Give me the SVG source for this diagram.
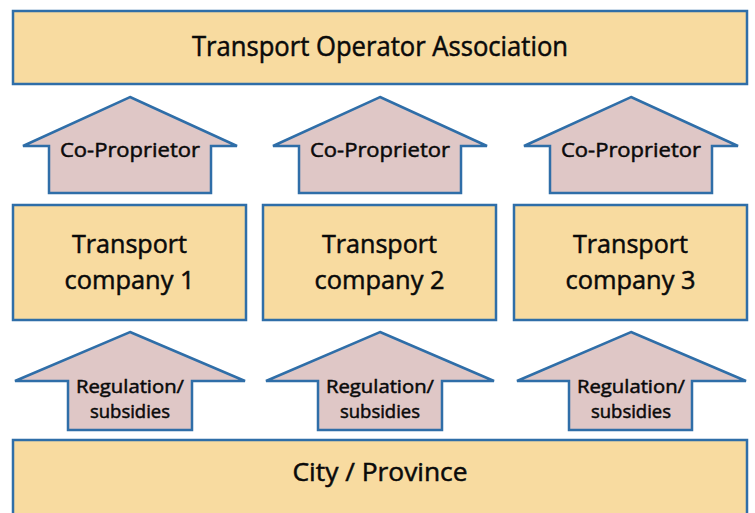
<svg xmlns="http://www.w3.org/2000/svg" width="755" height="513" viewBox="0 0 755 513">
<style>
.box{fill:#F8DBA0;stroke:#2F6EA8;stroke-width:2.5}
.arr{fill:#DFC7C6;stroke:#2F6EA8;stroke-width:2.5;stroke-linejoin:miter}
text{font-family:"Open Sans","Noto Sans","Liberation Sans",sans-serif;fill:#0a0a0a;stroke:#0a0a0a;stroke-width:0.5;text-anchor:middle}
.t1{font-size:27px}
.t2{font-size:25px}
.t3{font-size:20px}
.t4{font-size:18px}
</style>
<rect width="755" height="513" fill="#fff"/>
<g id="association">
<rect class="box" x="13" y="11" width="734" height="73"/>
<text class="t1" x="380" y="56" textLength="376" lengthAdjust="spacingAndGlyphs">Transport Operator Association</text>
</g>
<g id="connectors">
<g id="co1"><path class="arr" d="M130,97 L237,146 L211,146 L211,193 L49,193 L49,146 L23,146 Z"/><text class="t3" x="130" y="157" textLength="140" lengthAdjust="spacingAndGlyphs">Co-Proprietor</text></g>
<g id="co2"><path class="arr" d="M380,97 L487,146 L461,146 L461,193 L299,193 L299,146 L273,146 Z"/><text class="t3" x="380" y="157" textLength="140" lengthAdjust="spacingAndGlyphs">Co-Proprietor</text></g>
<g id="co3"><path class="arr" d="M631,97 L738,146 L712,146 L712,193 L550,193 L550,146 L524,146 Z"/><text class="t3" x="631" y="157" textLength="140" lengthAdjust="spacingAndGlyphs">Co-Proprietor</text></g>
<g id="reg1"><path class="arr" d="M130,332 L245,381 L192,381 L192,430 L68,430 L68,381 L15,381 Z"/><text class="t4" x="130" y="393" textLength="108" lengthAdjust="spacingAndGlyphs">Regulation/</text><text class="t4" x="130" y="418" textLength="80" lengthAdjust="spacingAndGlyphs">subsidies</text></g>
<g id="reg2"><path class="arr" d="M380,332 L494,381 L442,381 L442,430 L318,430 L318,381 L266,381 Z"/><text class="t4" x="380" y="393" textLength="108" lengthAdjust="spacingAndGlyphs">Regulation/</text><text class="t4" x="380" y="418" textLength="80" lengthAdjust="spacingAndGlyphs">subsidies</text></g>
<g id="reg3"><path class="arr" d="M631,332 L746,381 L692,381 L692,430 L569,430 L569,381 L517,381 Z"/><text class="t4" x="631" y="393" textLength="108" lengthAdjust="spacingAndGlyphs">Regulation/</text><text class="t4" x="631" y="418" textLength="80" lengthAdjust="spacingAndGlyphs">subsidies</text></g>
</g>
<g id="company1">
<rect class="box" x="13" y="205" width="233" height="115"/>
<text class="t2" x="129.5" y="253" textLength="115" lengthAdjust="spacingAndGlyphs">Transport</text>
<text class="t2" x="129.5" y="289" textLength="130" lengthAdjust="spacingAndGlyphs">company 1</text>
</g>
<g id="company2">
<rect class="box" x="263" y="205" width="233" height="115"/>
<text class="t2" x="379.5" y="253" textLength="115" lengthAdjust="spacingAndGlyphs">Transport</text>
<text class="t2" x="379.5" y="289" textLength="130" lengthAdjust="spacingAndGlyphs">company 2</text>
</g>
<g id="company3">
<rect class="box" x="514" y="205" width="233" height="115"/>
<text class="t2" x="630.5" y="253" textLength="115" lengthAdjust="spacingAndGlyphs">Transport</text>
<text class="t2" x="630.5" y="289" textLength="130" lengthAdjust="spacingAndGlyphs">company 3</text>
</g>
<g id="city">
<rect class="box" x="13" y="440" width="734" height="90"/>
<text class="t2" x="380" y="481" textLength="175" lengthAdjust="spacingAndGlyphs">City / Province</text>
</g>
</svg>
